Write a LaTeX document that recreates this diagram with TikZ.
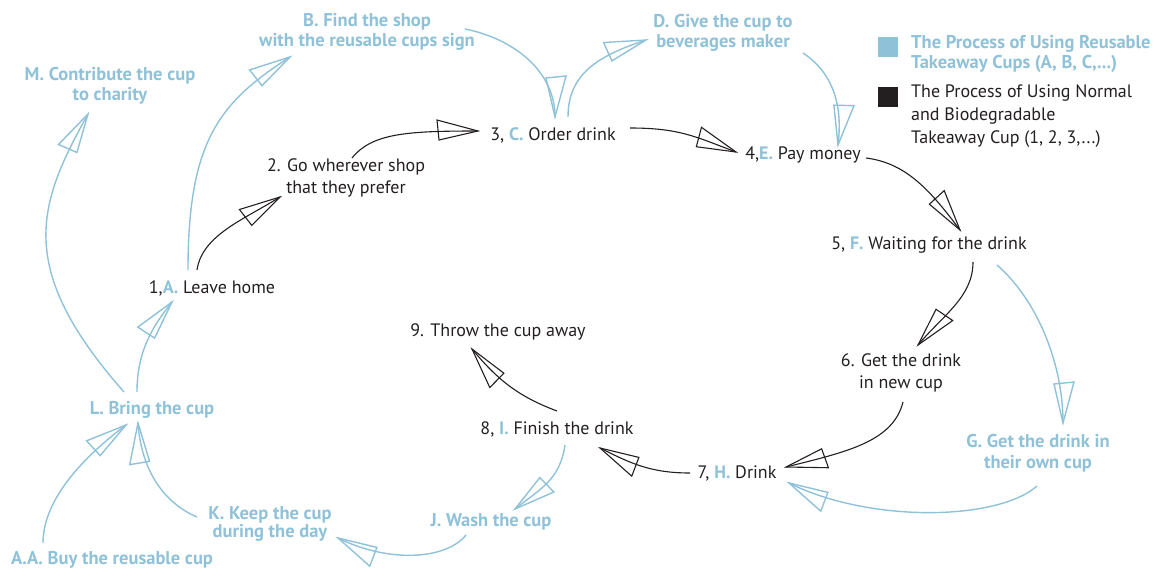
\documentclass[tikz,border=0pt]{standalone}
\usepackage{fontspec}
\setmainfont{PT Sans}
\definecolor{cblue}{RGB}{143,194,216}
\definecolor{cdark}{RGB}{35,31,32}
\pgfdeclarearrow{
  name=Plane,
  parameters={\the\pgflinewidth},
  setup code={
    \pgfarrowssettipend{0pt}
    \pgfarrowssetlineend{0pt}
    \pgfarrowssetvisualbackend{-40pt}
    \pgfarrowssetbackend{-41pt}
    \pgfarrowshullpoint{0pt}{0pt}
    \pgfarrowshullpoint{-41pt}{11pt}
    \pgfarrowshullpoint{-39pt}{-9pt}
  },
  drawing code={
    \pgfsetdash{}{0pt}
    \pgfsetmiterjoin
    \pgfpathmoveto{\pgfqpoint{0pt}{0pt}}
    \pgfpathlineto{\pgfqpoint{-41pt}{11pt}}
    \pgfpathlineto{\pgfqpoint{-39pt}{-9pt}}
    \pgfpathclose
    \pgfusepathqstroke
  }
}
\begin{document}
\begin{tikzpicture}[x=1pt,y=-1pt,
  lbl/.style={font=\fontsize{18}{22}\selectfont, text=cdark, align=center, inner sep=0pt},
  blbl/.style={font=\fontsize{18.5}{20.5}\selectfont\bfseries, text=cblue, align=center, inner sep=0pt},
  blk/.style={draw=cdark, line width=1.1pt, -Plane},
  blu/.style={draw=cblue, line width=1.4pt, -Plane},
]
\useasboundingbox (0,0) rectangle (1165,573);

% legend
\fill[cblue] (878,37) rectangle (898,57);
\fill[cdark] (878,87) rectangle (898,107);
\node[blbl, align=left, anchor=west, font=\fontsize{18.5}{19.5}\selectfont\bfseries] (legA) at (911,54) {The Process of Using Reusable\\Takeaway Cups (A, B, C,...)};
\node[lbl, align=left, anchor=west, font=\fontsize{18}{23}\selectfont] (legB) at (911,116) {The Process of Using Normal\\and Biodegradable\\Takeaway Cup (1, 2, 3,...)};

% nodes
\node[blbl] (nM) at (110,86) {M. Contribute the cup\\to charity};
\node[blbl] (nB) at (367,32) {B. Find the shop\\with the reusable cups sign};
\node[blbl] (nD) at (723,33) {D. Give the cup to\\beverages maker};
\node[lbl] (n2) at (346,178) {2. Go wherever shop\\that they prefer};
\node[lbl] (n1) at (212,288) {1,\textcolor{cblue}{\bfseries A.} Leave home};
\node[lbl] (n3) at (553,135) {3, \textcolor{cblue}{\bfseries C.} Order drink};
\node[lbl] (n4) at (803,155) {4,\textcolor{cblue}{\bfseries E.} Pay money};
\node[lbl] (n5) at (929,245) {5, \textcolor{cblue}{\bfseries F.} Waiting for the drink};
\node[lbl] (n6) at (901,373) {6. Get the drink\\in new cup};
\node[blbl] (nG) at (1038,453) {G. Get the drink in\\their own cup};
\node[lbl] (n7) at (737,473) {7, \textcolor{cblue}{\bfseries H.} Drink};
\node[lbl] (n8) at (557,429) {8, \textcolor{cblue}{\bfseries I.} Finish the drink};
\node[lbl] (n9) at (498,332) {9. Throw the cup away};
\node[blbl] (nJ) at (491,522) {J. Wash the cup};
\node[blbl, font=\fontsize{18.5}{18}\selectfont\bfseries] (nK) at (270,524) {K. Keep the cup\\during the day};
\node[blbl] (nL) at (152,410) {L. Bring the cup};
\node[blbl] (nAA) at (112,560) {A.A. Buy the reusable cup};

% black connectors
\draw[blk] ([shift={(-15,-18)}]n1.center) .. controls +(5,-35) and +(-35,22) .. ([shift={(-66,19)}]n2.center);
\draw[blk] ([shift={(6,-20)}]n2.center) .. controls +(20,-25) and +(-70,0) .. ([shift={(-75,-4)}]n3.center);
\draw[blk] ([shift={(77,-7)}]n3.center) .. controls +(50,0) and +(-40,-15) .. ([shift={(-67,-3)}]n4.center);
\draw[blk] ([shift={(63,3)}]n4.center) .. controls +(40,5) and +(-30,-40) .. ([shift={(31,-15)}]n5.center);
\draw[blk] ([shift={(44,17)}]n5.center) .. controls +(0,35) and +(25,-30) .. ([shift={(17,-28)}]n6.center);
\draw[blk] ([shift={(2,29)}]n6.center) .. controls +(-10,40) and +(60,-15) .. ([shift={(49,-6)}]n7.center);
\draw[blk] ([shift={(-47,0)}]n7.center) .. controls +(-40,0) and +(30,15) .. ([shift={(43,19)}]n8.center);
\draw[blk] ([shift={(0,-18)}]n8.center) .. controls +(-40,-15) and +(25,30) .. ([shift={(-26,17)}]n9.center);

% blue connectors
\draw[blu] ([shift={(-24,-18)}]n1.center) .. controls +(0,-130) and +(-70,45) .. ([shift={(-77,25)}]nB.center);
\draw[blu] ([shift={(-28,-18)}]nL.center) .. controls +(-110,-125) and +(-50,90) .. ([shift={(-22,28)}]nM.center);
\draw[blu] ([shift={(98,-3)}]nB.center) .. controls +(50,10) and +(0,-45) .. ([shift={(2,-18)}]n3.center);
\draw[blu] ([shift={(15,-18)}]n3.center) .. controls +(0,-45) and +(-45,15) .. ([shift={(-77,7)}]nD.center);
\draw[blu] ([shift={(80,20)}]nD.center) .. controls +(30,20) and +(5,-40) .. ([shift={(35,-10)}]n4.center);
\draw[blu] ([shift={(68,20)}]n5.center) .. controls +(40,35) and +(0,-60) .. ([shift={(25,-30)}]nG.center);
\draw[blu] ([shift={(-1,33)}]nG.center) .. controls +(-40,35) and +(80,40) .. ([shift={(52,10)}]n7.center);
\draw[blu] ([shift={(8,16)}]n8.center) .. controls +(-5,35) and +(25,-20) .. ([shift={(24,-13)}]nJ.center);
\draw[blu] ([shift={(-25,13)}]nJ.center) .. controls +(-20,25) and +(50,25) .. ([shift={(68,14)}]nK.center);
\draw[blu] ([shift={(-73,-7)}]nK.center) .. controls +(-35,-15) and +(3,45) .. ([shift={(-14,13)}]nL.center);
\draw[blu] ([shift={(-69,-17)}]nAA.center) .. controls +(0,-45) and +(-40,30) .. ([shift={(-26,15)}]nL.center);
\draw[blu] ([shift={(-15,-18)}]nL.center) .. controls +(0,-40) and +(-20,25) .. ([shift={(-40,14)}]n1.center);
\end{tikzpicture}
\end{document}
